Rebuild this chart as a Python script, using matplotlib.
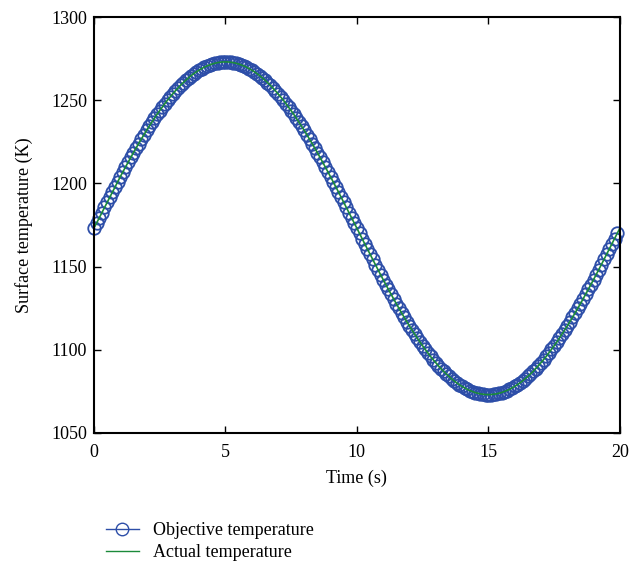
import numpy as np
import matplotlib
matplotlib.use('Agg')
import matplotlib.pyplot as plt

plt.rcParams['font.family'] = ['Liberation Serif', 'DejaVu Serif']
plt.rcParams['font.size'] = 13

# surface temperature, every 0.1 s from 0 to 20 s
time_s = np.round(np.arange(201) * 0.1, 1)

rise = [1173.0, 1176.1, 1179.3, 1182.4, 1185.5, 1188.6, 1191.7, 1194.8, 1197.9, 1200.9,
        1203.9, 1206.9, 1209.8, 1212.7, 1215.6, 1218.4, 1221.2, 1223.9, 1226.6, 1229.2,
        1231.8, 1234.3, 1236.7, 1239.1, 1241.5, 1243.7, 1245.9, 1248.0, 1250.1, 1252.0,
        1253.9, 1255.7, 1257.4, 1259.1, 1260.6, 1262.1, 1263.5, 1264.8, 1266.0, 1267.1,
        1268.1, 1269.0, 1269.9, 1270.6, 1271.2, 1271.8, 1272.2, 1272.6, 1272.8, 1273.0,
        1273.0]
fall_1 = [1273.0, 1272.8, 1272.6, 1272.2, 1271.8, 1271.2, 1270.6, 1269.9, 1269.0, 1268.1,
          1267.1, 1266.0, 1264.8, 1263.5, 1262.1, 1260.6, 1259.1, 1257.4, 1255.7, 1253.9,
          1252.0, 1250.1, 1248.0, 1245.9, 1243.7, 1241.5, 1239.1, 1236.7, 1234.3, 1231.8,
          1229.2, 1226.6, 1223.9, 1221.2, 1218.4, 1215.6, 1212.7, 1209.8, 1206.9, 1203.9,
          1200.9, 1197.9, 1194.8, 1191.7, 1188.6, 1185.5, 1182.4, 1179.3, 1176.1, 1173.0]
fall_2 = [1169.9, 1166.7, 1163.6, 1160.5, 1157.4, 1154.3, 1151.2, 1148.1, 1145.1, 1142.1,
          1139.1, 1136.2, 1133.3, 1130.4, 1127.6, 1124.8, 1122.1, 1119.4, 1116.8, 1114.2,
          1111.7, 1109.3, 1106.9, 1104.5, 1102.3, 1100.1, 1098.0, 1095.9, 1094.0, 1092.1,
          1090.3, 1088.6, 1086.9, 1085.4, 1083.9, 1082.5, 1081.2, 1080.0, 1078.9, 1077.9,
          1077.0, 1076.1, 1075.4, 1074.8, 1074.2, 1073.8, 1073.4, 1073.2, 1073.0, 1073.0]
rise_2 = [1073.0, 1073.2, 1073.4, 1073.8, 1074.2, 1074.8, 1075.4, 1076.1, 1077.0, 1077.9,
          1078.9, 1080.0, 1081.2, 1082.5, 1083.9, 1085.4, 1086.9, 1088.6, 1090.3, 1092.1,
          1094.0, 1095.9, 1098.0, 1100.1, 1102.3, 1104.5, 1106.9, 1109.3, 1111.7, 1114.2,
          1116.8, 1119.4, 1122.1, 1124.8, 1127.6, 1130.4, 1133.3, 1136.2, 1139.1, 1142.1,
          1145.1, 1148.1, 1151.2, 1154.3, 1157.4, 1160.5, 1163.6, 1166.7, 1169.9, 1173.0]

actual_temp = rise + fall_1 + fall_2 + rise_2
objective_temp = actual_temp[:200]   # circles stop one step before the end

blue = '#2d4ea8'
green = '#1b8a3a'

fig = plt.figure(figsize=(6.39, 5.68), dpi=100)
ax = fig.add_axes([0.147, 0.238, 0.823, 0.732])

ax.plot(time_s[:200], objective_temp, 'o', color=blue, markerfacecolor='none',
        markersize=9, markeredgewidth=1.3, clip_on=False, label='Objective temperature')
ax.plot(time_s, actual_temp, '-', color=green, linewidth=1.2, label='Actual temperature')

ax.set_xlim(0, 20)
ax.set_ylim(1050, 1300)
ax.set_xticks([0, 5, 10, 15, 20])
ax.set_yticks([1050, 1100, 1150, 1200, 1250, 1300])
ax.tick_params(direction='in', length=5, width=1, top=True, right=True, labelsize=13)
ax.tick_params(axis='x', pad=8)
ax.tick_params(axis='y', pad=5)
for s in ax.spines.values():
    s.set_linewidth(1.5)
ax.set_xlabel('Time (s)', fontsize=13, labelpad=6)
ax.set_ylabel('Surface temperature (K)', fontsize=13, labelpad=13)

# legend handles: line through circle for objective
h1 = plt.Line2D([], [], color=blue, marker='o', markerfacecolor='none',
                markersize=9, linewidth=1.0)
h2 = plt.Line2D([], [], color=green, linewidth=1.0)
fig.legend([h1, h2], ['Objective temperature', 'Actual temperature'],
           loc='upper left', bbox_to_anchor=(0.152, 0.097), frameon=False,
           fontsize=13, handlelength=1.8, handletextpad=0.8, labelspacing=0.3, borderpad=0)

fig.savefig('out.png', dpi=100)
